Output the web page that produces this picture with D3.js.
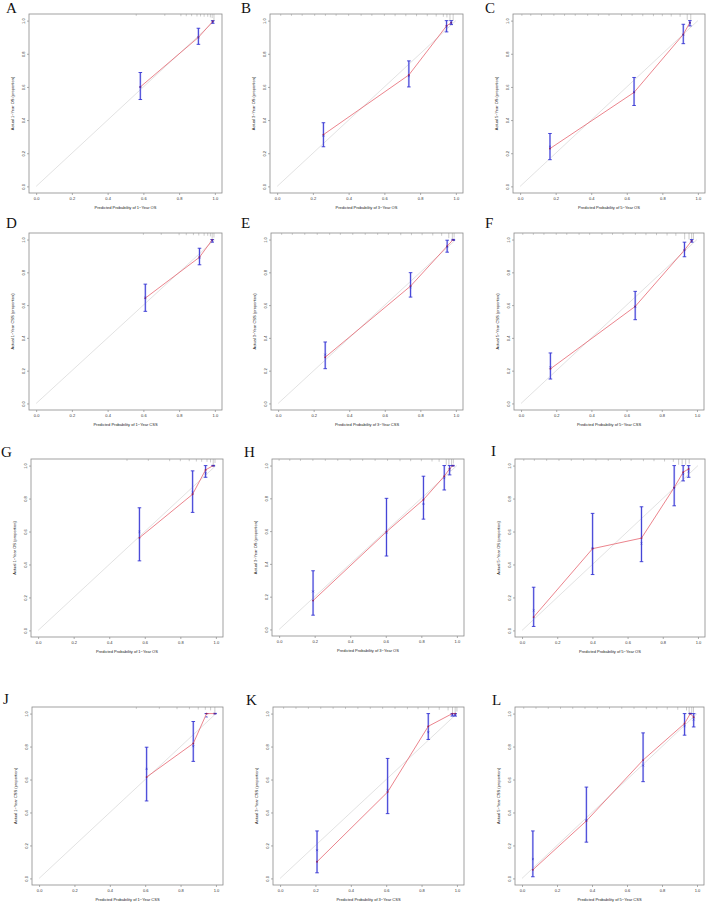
<!DOCTYPE html>
<html lang="en">
<head>
    <meta charset="UTF-8">
    <title>Calibration curves</title>
    <script src="https://d3js.org/d3.v7.min.js"></script>
    <style>
        body { margin: 0; background: #fff; }
        .box { fill: none; stroke: #8a8a8a; stroke-width: 0.8; }
        .axis path { display: none; }
        .axis line { stroke: #777; stroke-width: 0.6; }
        .axis text { font-family: "Liberation Sans", Arial, sans-serif; font-size: 4px; fill: #333; }
        .title { font-family: "Liberation Sans", Arial, sans-serif; font-size: 4px; fill: #222; }
        .letter { font-family: "Liberation Serif", "Times New Roman", serif; font-size: 15px; fill: #111; }
    </style>
</head>
<body>
<svg width="709" height="906"></svg>
<script>
    // panel letters and axis titles
    const letters = ["A", "B", "C", "D", "E", "F", "G", "H", "I", "J", "K", "L"];
    const endpoints = ["1-Year OS", "3-Year OS", "5-Year OS", "1-Year CSS", "3-Year CSS", "5-Year CSS",
                       "1-Year OS", "3-Year OS", "5-Year OS", "1-Year CSS", "3-Year CSS", "5-Year CSS"];
    const tickValues = [0, 0.2, 0.4, 0.6, 0.8, 1.0];

    // each row: predicted, observed, bias-corrected, lower, upper
    const calA = [[0.583, 0.600, 0.600, 0.524, 0.687], [0.908, 0.899, 0.899, 0.857, 0.954], [0.988, 0.995, 0.990, 0.984, 1.0]];
    const calB = [[0.259, 0.312, 0.305, 0.239, 0.384], [0.737, 0.672, 0.665, 0.600, 0.757], [0.948, 0.968, 0.965, 0.932, 1.0], [0.974, 0.988, 0.985, 0.976, 1.0]];
    const calC = [[0.168, 0.228, 0.240, 0.161, 0.319], [0.641, 0.567, 0.570, 0.488, 0.657], [0.918, 0.917, 0.915, 0.861, 0.978], [0.955, 0.988, 0.985, 0.968, 1.0]];
    const calD = [[0.611, 0.643, 0.645, 0.562, 0.728], [0.914, 0.892, 0.890, 0.846, 0.947], [0.985, 0.998, 0.995, 0.984, 1.0]];
    const calE = [[0.265, 0.282, 0.298, 0.212, 0.375], [0.745, 0.716, 0.710, 0.649, 0.798], [0.951, 0.960, 0.955, 0.923, 0.996], [0.985, 1.0, 1.0, 0.995, 1.0]];
    const calF = [[0.167, 0.211, 0.220, 0.149, 0.308], [0.649, 0.592, 0.590, 0.511, 0.684], [0.929, 0.936, 0.935, 0.895, 0.984], [0.970, 0.992, 0.990, 0.984, 1.0]];
    const calG = [[0.570, 0.562, 0.598, 0.422, 0.744], [0.869, 0.826, 0.838, 0.716, 0.968], [0.942, 0.974, 0.953, 0.929, 1.0], [0.985, 1.0, 1.0, 0.998, 1.0]];
    const calH = [[0.191, 0.176, 0.232, 0.087, 0.358], [0.604, 0.596, 0.590, 0.448, 0.800], [0.812, 0.792, 0.766, 0.673, 0.935],
                  [0.929, 0.935, 0.923, 0.851, 1.0], [0.959, 0.980, 0.975, 0.943, 1.0], [0.977, 1.0, 1.0, 0.998, 1.0]];
    const calI = [[0.066, 0.081, 0.121, 0.024, 0.262], [0.401, 0.496, 0.500, 0.339, 0.710], [0.679, 0.560, 0.528, 0.417, 0.750],
                  [0.865, 0.867, 0.863, 0.756, 1.0], [0.916, 0.960, 0.948, 0.907, 1.0], [0.947, 0.980, 0.964, 0.929, 1.0]];
    const calJ = [[0.608, 0.615, 0.665, 0.470, 0.796], [0.872, 0.819, 0.802, 0.710, 0.952], [0.947, 1.0, 0.980, 1.0, 1.0], [0.994, 1.0, 1.0, 1.0, 1.0]];
    const calK = [[0.209, 0.101, 0.171, 0.034, 0.288], [0.608, 0.524, 0.534, 0.393, 0.728], [0.838, 0.923, 0.887, 0.843, 1.0],
                  [0.974, 1.0, 0.995, 0.985, 1.0], [0.990, 1.0, 0.990, 0.985, 1.0]];
    const calL = [[0.062, 0.052, 0.117, 0.010, 0.288], [0.368, 0.349, 0.353, 0.220, 0.554], [0.692, 0.718, 0.685, 0.587, 0.883],
                  [0.929, 0.940, 0.923, 0.869, 1.0], [0.962, 1.0, 1.0, 1.0, 1.0], [0.981, 0.978, 0.964, 0.919, 1.0]];

    // rug of predicted probabilities along the top: [position, relative height]
    const rugA = [[0.56, 0.15], [0.72, 0.15], [0.81, 0.2], [0.84, 0.2], [0.87, 0.2], [0.9, 0.25], [0.92, 0.25], [0.94, 0.3], [0.96, 0.3], [0.975, 0.4], [0.985, 0.5], [0.995, 1]];
    const rugB = [[0.02, 0.15], [0.08, 0.15], [0.14, 0.15], [0.21, 0.15], [0.27, 0.15], [0.33, 0.15], [0.4, 0.15], [0.47, 0.15], [0.53, 0.15], [0.6, 0.15], [0.66, 0.2],
                  [0.72, 0.2], [0.78, 0.2], [0.84, 0.2], [0.89, 0.25], [0.93, 0.3], [0.95, 0.4], [0.967, 1], [0.985, 1]];
    const rugC = [[0.01, 0.15], [0.06, 0.15], [0.12, 0.15], [0.19, 0.15], [0.25, 0.15], [0.31, 0.15], [0.38, 0.15], [0.44, 0.15], [0.5, 0.15], [0.57, 0.15], [0.63, 0.15],
                  [0.69, 0.2], [0.75, 0.2], [0.8, 0.2], [0.85, 0.25], [0.9, 0.3], [0.94, 0.8], [0.96, 0.8]];
    const rugD = [[0.6, 0.15], [0.7, 0.15], [0.8, 0.2], [0.84, 0.2], [0.88, 0.2], [0.91, 0.25], [0.94, 0.3], [0.96, 0.3], [0.975, 0.4], [0.985, 0.8], [0.995, 0.6]];
    const rugE = [[0.02, 0.15], [0.08, 0.15], [0.15, 0.15], [0.22, 0.15], [0.29, 0.15], [0.35, 0.15], [0.42, 0.15], [0.49, 0.15], [0.56, 0.15], [0.62, 0.15], [0.69, 0.2],
                  [0.75, 0.2], [0.81, 0.2], [0.87, 0.25], [0.92, 0.3], [0.96, 0.7], [0.98, 0.8], [0.99, 0.6]];
    const rugF = [[0.01, 0.15], [0.07, 0.15], [0.13, 0.15], [0.2, 0.15], [0.26, 0.15], [0.33, 0.15], [0.39, 0.15], [0.46, 0.15], [0.52, 0.15], [0.58, 0.15], [0.65, 0.15],
                  [0.71, 0.2], [0.77, 0.2], [0.83, 0.25], [0.88, 0.3], [0.93, 0.9], [0.955, 0.9], [0.97, 0.9], [0.98, 0.9]];
    const rugG = [[0.5, 0.15], [0.62, 0.15], [0.74, 0.2], [0.8, 0.2], [0.85, 0.2], [0.89, 0.25], [0.92, 0.3], [0.95, 0.3], [0.97, 0.4], [0.985, 0.8], [0.995, 0.5]];
    const rugH = [[0.0, 0.15], [0.06, 0.15], [0.12, 0.15], [0.19, 0.15], [0.26, 0.15], [0.33, 0.15], [0.4, 0.15], [0.47, 0.15], [0.54, 0.15], [0.61, 0.15], [0.68, 0.2],
                  [0.74, 0.2], [0.8, 0.2], [0.86, 0.25], [0.9, 0.3], [0.94, 0.8], [0.955, 0.8], [0.97, 0.8], [0.98, 0.6]];
    const rugI = [[0.01, 0.15], [0.07, 0.15], [0.14, 0.15], [0.21, 0.15], [0.28, 0.15], [0.35, 0.15], [0.42, 0.15], [0.49, 0.15], [0.56, 0.15], [0.62, 0.15], [0.69, 0.2],
                  [0.75, 0.2], [0.81, 0.25], [0.86, 0.3], [0.89, 0.8], [0.91, 0.8], [0.93, 0.8], [0.95, 0.6]];
    const rugJ = [[0.55, 0.15], [0.68, 0.15], [0.78, 0.2], [0.85, 0.2], [0.9, 0.25], [0.94, 0.3], [0.97, 0.4], [0.994, 1]];
    const rugK = [[0.02, 0.15], [0.09, 0.15], [0.16, 0.15], [0.23, 0.15], [0.3, 0.15], [0.37, 0.15], [0.44, 0.15], [0.51, 0.15], [0.58, 0.15], [0.65, 0.15], [0.72, 0.2],
                  [0.78, 0.2], [0.84, 0.25], [0.9, 0.3], [0.95, 0.4], [0.975, 0.8], [0.99, 0.8], [1.0, 0.6]];
    const rugL = [[0.01, 0.15], [0.08, 0.15], [0.15, 0.15], [0.22, 0.15], [0.29, 0.15], [0.36, 0.15], [0.43, 0.15], [0.5, 0.15], [0.57, 0.15], [0.64, 0.15], [0.71, 0.2],
                  [0.77, 0.2], [0.83, 0.25], [0.89, 0.3], [0.94, 0.4], [0.955, 0.8], [0.97, 0.8], [0.98, 0.8]];

    const calData = [calA, calB, calC, calD, calE, calF, calG, calH, calI, calJ, calK, calL];
    const rugData = [rugA, rugB, rugC, rugD, rugE, rugF, rugG, rugH, rugI, rugJ, rugK, rugL];

    // plot box of each panel [left, top, right, bottom] and letter position [x, baseline]
    const boxes = [
        [29, 14, 222, 193], [270, 14, 463, 193], [513, 14, 705, 193],
        [29, 233, 222, 410], [271, 233, 463, 410], [514, 233, 704, 410],
        [31, 459, 223, 637], [272, 459, 464, 636], [515, 459, 705, 637],
        [32, 707, 223, 885], [273, 707, 464, 885], [515, 707, 704, 885]
    ];
    const letterPos = [
        [6, 13], [241, 13], [485, 13],
        [6, 228], [241, 228], [485, 228],
        [1, 457], [244, 457], [491, 456],
        [3, 704], [246, 705], [492, 705]
    ];

    const svg = d3.select("svg");
    svg.append("rect").attr("width", 709).attr("height", 906).attr("fill", "#fff");

    letters.forEach((letter, i) => {
        const [x0, y0, x1, y1] = boxes[i];
        const rows = calData[i];
        const g = svg.append("g");

        // R style 4% padding around [0, 1]
        const x = d3.scaleLinear().domain([-0.04, 1.04]).range([x0, x1]);
        const y = d3.scaleLinear().domain([-0.04, 1.04]).range([y1, y0]);

        // ideal line
        g.append("line")
            .attr("x1", x(0)).attr("y1", y(0))
            .attr("x2", x(1)).attr("y2", y(1))
            .attr("stroke", "#cfcfcf").attr("stroke-width", 0.6);

        // rug at the top
        g.selectAll(".rug").data(rugData[i]).enter().append("line")
            .attr("x1", d => x(d[0])).attr("x2", d => x(d[0]))
            .attr("y1", y0).attr("y2", d => y0 + 1 + d[1] * 6)
            .attr("stroke", "#999").attr("stroke-width", 0.5);

        // error bars
        const bars = g.selectAll(".bar").data(rows).enter().append("g");
        bars.append("line")
            .attr("x1", d => x(d[0])).attr("x2", d => x(d[0]))
            .attr("y1", d => y(d[3])).attr("y2", d => y(d[4]))
            .attr("stroke", "#8c8cf0").attr("stroke-width", 2).attr("opacity", 0.5);
        bars.append("line")
            .attr("x1", d => x(d[0])).attr("x2", d => x(d[0]))
            .attr("y1", d => y(d[3])).attr("y2", d => y(d[4]))
            .attr("stroke", "#3535d2").attr("stroke-width", 0.9);
        [3, 4].forEach(k => {
            bars.append("line")
                .attr("x1", d => x(d[0]) - 1.8).attr("x2", d => x(d[0]) + 1.8)
                .attr("y1", d => y(d[k])).attr("y2", d => y(d[k]))
                .attr("stroke", "#3535d2").attr("stroke-width", 0.9);
        });

        // observed calibration line
        const line = d3.line().x(d => x(d[0])).y(d => y(d[1]));
        g.append("path").datum(rows)
            .attr("d", line)
            .attr("fill", "none")
            .attr("stroke", "#e66470").attr("stroke-width", 0.8);

        g.selectAll(".pt").data(rows).enter().append("circle")
            .attr("cx", d => x(d[0])).attr("cy", d => y(d[1]))
            .attr("r", 0.9).attr("fill", "#8a2060");

        // bias-corrected estimates
        g.selectAll(".bc").data(rows).enter().append("path")
            .attr("d", d => {
                const cx = x(d[0]), cy = y(d[2]);
                return `M${cx - 0.9},${cy - 0.9}L${cx + 0.9},${cy + 0.9}M${cx - 0.9},${cy + 0.9}L${cx + 0.9},${cy - 0.9}`;
            })
            .attr("stroke", "#3030c8").attr("stroke-width", 0.6);

        // axes
        g.append("g").attr("class", "axis")
            .attr("transform", `translate(0,${y1})`)
            .call(d3.axisBottom(x).tickValues(tickValues).tickFormat(d3.format(".1f")).tickSize(2).tickPadding(2));
        const ya = g.append("g").attr("class", "axis")
            .attr("transform", `translate(${x0},0)`)
            .call(d3.axisLeft(y).tickValues(tickValues).tickFormat(d3.format(".1f")).tickSize(2).tickPadding(2));
        ya.selectAll("text")
            .attr("text-anchor", "middle")
            .attr("transform", "translate(-5.5,0) rotate(-90)")
            .attr("x", 0).attr("y", 0).attr("dy", "0.35em");

        g.append("rect").attr("class", "box")
            .attr("x", x0).attr("y", y0)
            .attr("width", x1 - x0).attr("height", y1 - y0);

        // titles
        g.append("text").attr("class", "title")
            .attr("x", x(0.5)).attr("y", y1 + 16)
            .attr("text-anchor", "middle")
            .text("Predicted Probability of " + endpoints[i].replace("-", "\u2212"));
        g.append("text").attr("class", "title")
            .attr("transform", `translate(${x0 - 15},${y(0.5)}) rotate(-90)`)
            .attr("text-anchor", "middle")
            .text("Actual " + endpoints[i].replace("-", "\u2212") + " (proportion)");

        svg.append("text").attr("class", "letter")
            .attr("x", letterPos[i][0]).attr("y", letterPos[i][1])
            .text(letter);
    });
</script>
</body>
</html>
